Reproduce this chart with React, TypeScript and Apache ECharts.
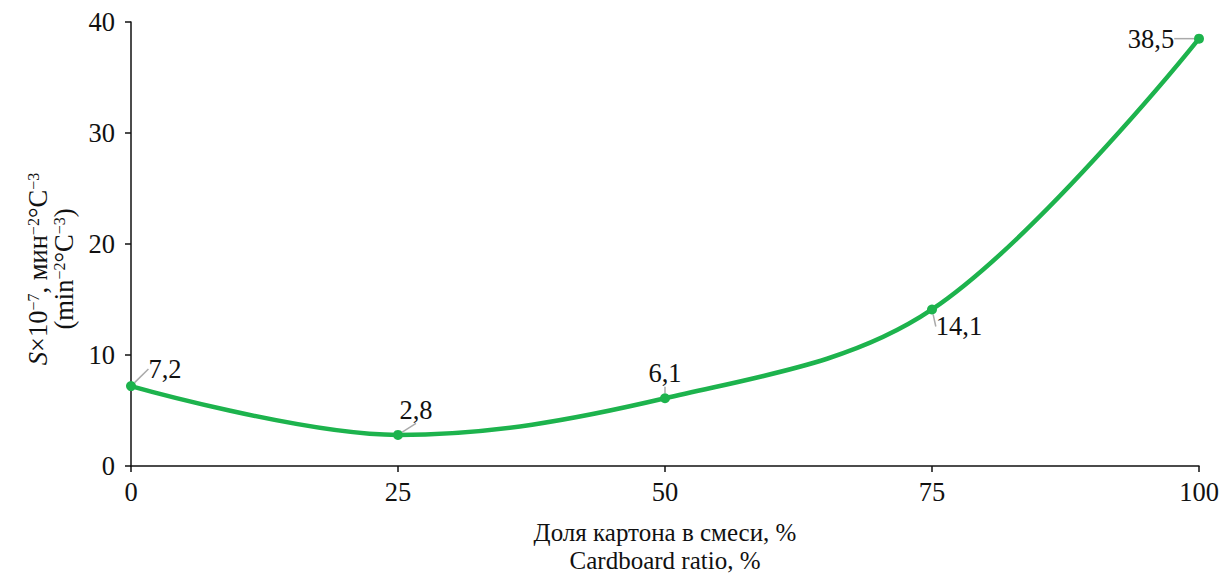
import React, { useEffect, useRef } from "react";
import * as echarts from "echarts";

const ratios = [0, 25, 50, 75, 100];
const sValues = [7.2, 2.8, 6.1, 14.1, 38.5];
const labelTexts = ["7,2", "2,8", "6,1", "14,1", "38,5"];
const labelShifts = [
  [34, -17],
  [18, -25],
  [0, -25],
  [27, 17],
  [-48, 0],
];

const FONT = "'Liberation Serif', 'Times New Roman', serif";
const FS = 26.5;

export default function App() {
  const ref = useRef<HTMLDivElement>(null);
  useEffect(() => {
    if (!ref.current) return;
    const chart = echarts.init(ref.current, undefined, { renderer: "svg" });
    const base = { fontFamily: FONT, fontSize: FS, color: "#111", lineHeight: 26, verticalAlign: "bottom" };
    const sup = { fontFamily: FONT, fontSize: 16, color: "#111", lineHeight: 26, verticalAlign: "top" };
    chart.setOption({
      animation: false,
      backgroundColor: "#fff",
      textStyle: { fontFamily: FONT },
      grid: { left: 131, right: 22, top: 22, bottom: 110, outerBoundsMode: "none", containLabel: false },
      xAxis: {
        type: "value",
        min: 0,
        max: 100,
        interval: 25,
        name: "Доля картона в смеси, %\nCardboard ratio, %",
        nameLocation: "middle",
        nameGap: 52,
        nameTextStyle: { fontFamily: FONT, fontSize: 25, color: "#111", lineHeight: 28, verticalAlign: "top" },
        axisLine: { lineStyle: { color: "#111", width: 1.5 } },
        axisTick: { show: true, inside: false, length: 6, lineStyle: { color: "#111", width: 1.5 } },
        axisLabel: { fontFamily: FONT, fontSize: FS, color: "#111", margin: 12 },
        splitLine: { show: false },
      },
      yAxis: {
        type: "value",
        min: 0,
        max: 40,
        interval: 10,
        name:
          "{i|S}{n|×10}{s|−7}{n|, мин}{s|−2}{n|°C}{s|−3}\n{n|(min}{s|−2}{n|°C}{s|−3}{n|)}",
        nameLocation: "middle",
        nameRotate: 90,
        nameGap: 54,
        nameTextStyle: {
          fontFamily: FONT,
          fontSize: FS,
          color: "#111",
          lineHeight: 26,
          padding: [0, 50, 0, 0],
          rich: {
            i: { ...base, fontStyle: "italic" },
            n: base,
            s: sup,
          },
        },
        axisLine: { show: true, lineStyle: { color: "#111", width: 1.5 } },
        axisTick: { show: true, inside: false, length: 6, lineStyle: { color: "#111", width: 1.5 } },
        axisLabel: { fontFamily: FONT, fontSize: FS, color: "#111", margin: 16 },
        splitLine: { show: false },
      },
      series: [
        {
          type: "line",
          smooth: 0.35,
          data: ratios.map((r, i) => [r, sValues[i]]),
          symbol: "circle",
          symbolSize: 10,
          itemStyle: { color: "#1db34d" },
          lineStyle: { color: "#1db34d", width: 4.5 },
          label: {
            show: true,
            position: "inside",
            fontFamily: FONT,
            fontSize: FS,
            color: "#111",
            formatter: (p: any) => labelTexts[p.dataIndex],
          },
          labelLine: { show: true, lineStyle: { color: "#aaa", width: 1.5 } },
          labelLayout: (p: any) => ({
            dx: labelShifts[p.dataIndex][0],
            dy: labelShifts[p.dataIndex][1],
          }),
        },
      ],
    });
    return () => chart.dispose();
  }, []);
  return <div ref={ref} style={{ width: 1221, height: 576, position: "absolute", left: 0, top: 0 }} />;
}
